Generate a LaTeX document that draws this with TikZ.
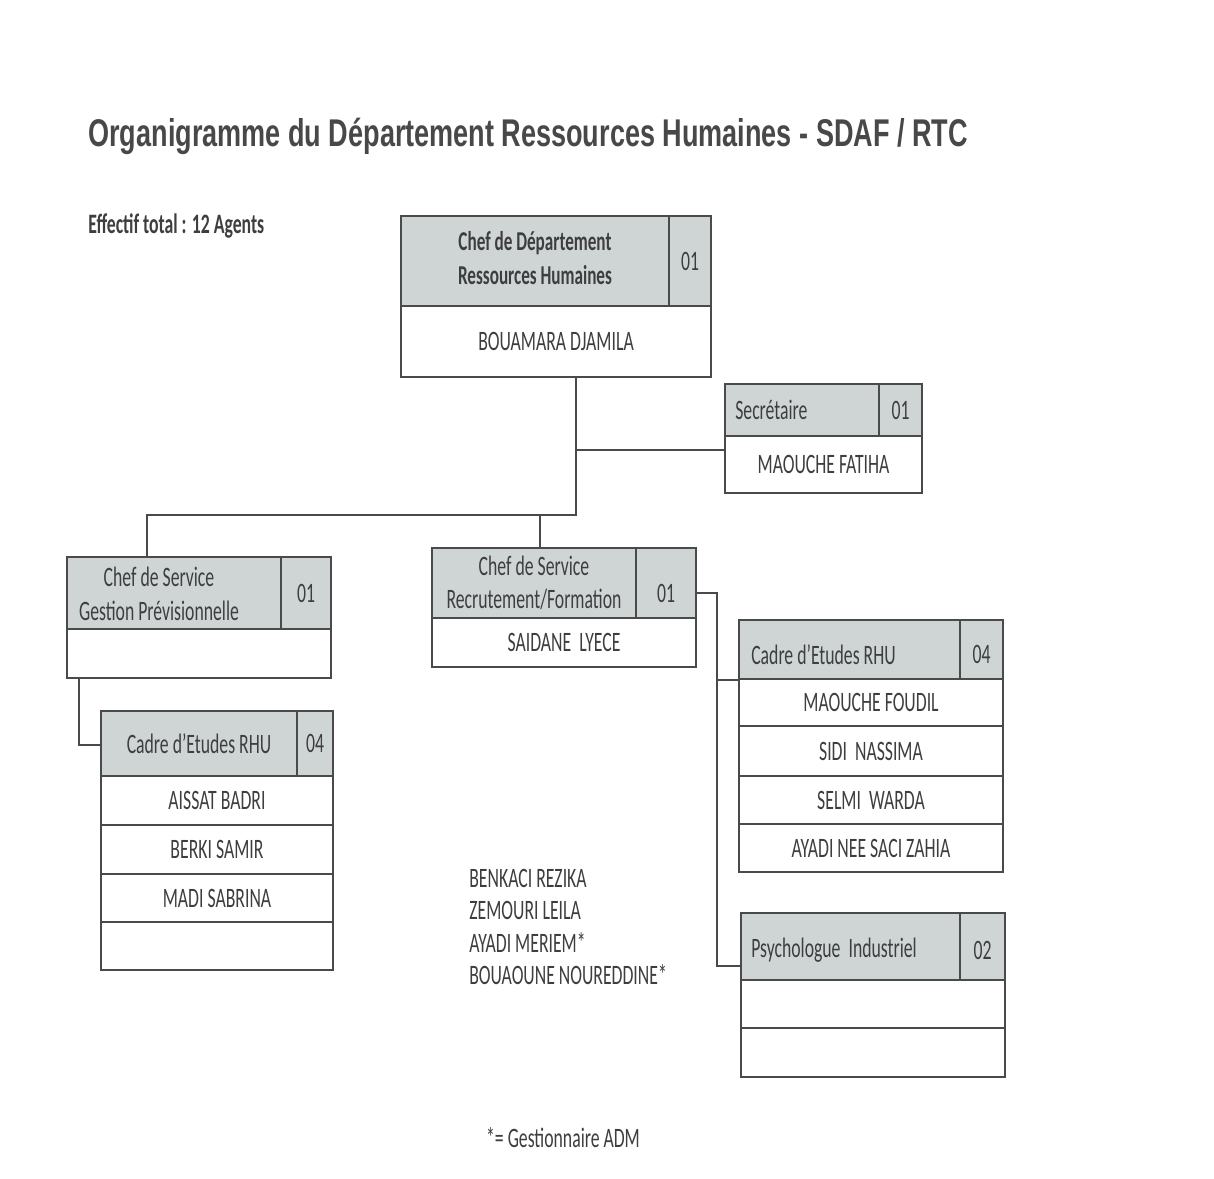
\documentclass[tikz,border=0pt]{standalone}
\usepackage{fontspec}
\setmainfont{Carlito}[FakeStretch=0.63]
\newfontfamily\titlefont{Liberation Sans}[FakeStretch=0.70]
\usetikzlibrary{fit,positioning,calc}
\definecolor{lnc}{HTML}{4A4A4A}
\definecolor{txc}{HTML}{3E3E3E}
\definecolor{ttc}{HTML}{484848}
\definecolor{hdfill}{HTML}{CFD5D5}

\begin{document}
\begin{tikzpicture}[x=0.02cm,y=-0.02cm,
    hd/.style={draw=lnc,line width=1.2pt,fill=hdfill,inner sep=0pt},
    nm/.style={hd,fill=white},
    txt/.style={inner sep=0pt,text=txc,align=center,font=\fontsize{16}{19}\selectfont},
    lnk/.style={draw=lnc,line width=1.1pt}]
 \useasboundingbox[fill=white] (0,0) rectangle (1214,1179);

 % titre
 \node[anchor=west,inner sep=0pt,text=ttc,
   font=\titlefont\bfseries\fontsize{22}{26}\selectfont] (titre) at (88,136)
   {Organigramme du Département Ressources Humaines - SDAF / RTC};
 \node[txt,anchor=west,font=\bfseries\fontsize{16}{19}\selectfont] (effectif) at (88,226)
   {Effectif total : 12 Agents};

 % chef de departement
 \node[hd,fit={(401,216)(669,306)}] (depHd) {};
 \node[hd,fit={(669,216)(711,306)}] (depNb) {};
 \node[nm,fit={(401,306)(711,377)}] (depNom) {};
 \node[txt,font=\bfseries\fontsize{15.5}{19}\selectfont] (depT) at ([yshift=0.06cm]depHd.center)
   {Chef de Département\\Ressources Humaines};
 \node[txt] (depN) at (depNb.center) {01};
 \node[txt] (depP) at (depNom.center) {BOUAMARA DJAMILA};

 % secretaire
 \node[hd,fit={(725,384)(879,436)}] (secHd) {};
 \node[hd,fit={(879,384)(922,436)}] (secNb) {};
 \node[nm,fit={(725,436)(922,493)}] (secNom) {};
 \node[txt,anchor=west] (secT) at ([xshift=0.22cm]secHd.west) {Secrétaire};
 \node[txt] (secN) at (secNb.center) {01};
 \node[txt] (secP) at (secNom.center) {MAOUCHE FATIHA};

 % gestion previsionnelle
 \node[hd,fit={(67,557)(281,629)}] (gpHd) {};
 \node[hd,fit={(281,557)(331,629)}] (gpNb) {};
 \node[nm,fit={(67,629)(331,678)}] (gpNom) {};
 \node[txt] (gpT) at (159,594) {Chef de Service\\Gestion Prévisionnelle};
 \node[txt] (gpN) at (gpNb.center) {01};

 % cadre d'etudes (gauche)
 \node[hd,fit={(101,711)(297,776)}] (cadLHd) {};
 \node[hd,fit={(297,711)(333,776)}] (cadLNb) {};
 \node[nm,fit={(101,776)(333,825)}] (cadL1) {};
 \node[nm,fit={(101,825)(333,874)}] (cadL2) {};
 \node[nm,fit={(101,874)(333,922)}] (cadL3) {};
 \node[nm,fit={(101,922)(333,970)}] (cadL4) {};
 \node[txt] (cadLT) at (cadLHd.center) {Cadre d’Etudes RHU};
 \node[txt] (cadLN) at (cadLNb.center) {04};
 \node[txt] at (cadL1.center) {AISSAT BADRI};
 \node[txt] at (cadL2.center) {BERKI SAMIR};
 \node[txt] at (cadL3.center) {MADI SABRINA};

 % recrutement / formation
 \node[hd,fit={(432,548)(636,618)}] (rfHd) {};
 \node[hd,fit={(636,548)(696,618)}] (rfNb) {};
 \node[nm,fit={(432,618)(696,667)}] (rfNom) {};
 \node[txt] (rfT) at (rfHd.center) {Chef de Service\\Recrutement/Formation};
 \node[txt] (rfN) at ([yshift=-0.2cm]rfNb.center) {01};
 \node[txt] (rfP) at (rfNom.center) {SAIDANE\ \ LYECE};

 % cadre d'etudes (droite)
 \node[hd,fit={(739,620)(960,679)}] (cadRHd) {};
 \node[hd,fit={(960,620)(1003,679)}] (cadRNb) {};
 \node[nm,fit={(739,679)(1003,726)}] (cadR1) {};
 \node[nm,fit={(739,726)(1003,776)}] (cadR2) {};
 \node[nm,fit={(739,776)(1003,824)}] (cadR3) {};
 \node[nm,fit={(739,824)(1003,872)}] (cadR4) {};
 \node[txt,anchor=west] (cadRT) at ([xshift=0.26cm,yshift=-0.1cm]cadRHd.west) {Cadre d’Etudes RHU};
 \node[txt] (cadRN) at ([yshift=-0.1cm]cadRNb.center) {04};
 \node[txt] at (cadR1.center) {MAOUCHE FOUDIL};
 \node[txt] at (cadR2.center) {SIDI\ \ NASSIMA};
 \node[txt] at (cadR3.center) {SELMI\ \ WARDA};
 \node[txt] at (cadR4.center) {AYADI NEE SACI ZAHIA};

 % psychologue
 \node[hd,fit={(741,913)(960,980)}] (psyHd) {};
 \node[hd,fit={(960,913)(1005,980)}] (psyNb) {};
 \node[nm,fit={(741,980)(1005,1028)}] (psy1) {};
 \node[nm,fit={(741,1028)(1005,1077)}] (psy2) {};
 \node[txt,anchor=west] (psyT) at ([xshift=0.22cm,yshift=-0.08cm]psyHd.west) {Psychologue\ \ Industriel};
 \node[txt] (psyN) at ([yshift=-0.08cm]psyNb.center) {02};

 % gestionnaires
 \node[txt,anchor=west,align=left,font=\fontsize{16}{18.3}\selectfont] (gest) at (469,927)
   {BENKACI REZIKA\\ZEMOURI LEILA\\AYADI MERIEM*\\BOUAOUNE NOUREDDINE*};
 \node[txt] (note) at (563,1138) {*= Gestionnaire ADM};

 % liaisons
 \coordinate (j1) at (576,515);
 \coordinate (jSec) at (725,450);
 \coordinate (jGp) at (147,515);
 \coordinate (jRf) at (540,515);
 \coordinate (jL) at (79,745);
 \coordinate (rfOut) at (696,593);
 \coordinate (jR) at (717,593);
 \coordinate (jPsy) at (741,966);
 \draw[lnk] (depNom.south -| j1) -- (j1) -- (jGp) -- (jGp |- gpHd.north);
 \draw[lnk] (jRf) -- (jRf |- rfHd.north);
 \draw[lnk] (j1 |- jSec) -- (jSec);
 \draw[lnk] (gpNom.south -| jL) -- (jL) -- (cadLHd.west |- jL);
 \draw[lnk] (rfOut) -- (jR) -- (jR |- jPsy) -- (jPsy);
 \draw[lnk] (jR |- cadRHd.south) -- (cadRHd.south west);
\end{tikzpicture}
\end{document}
